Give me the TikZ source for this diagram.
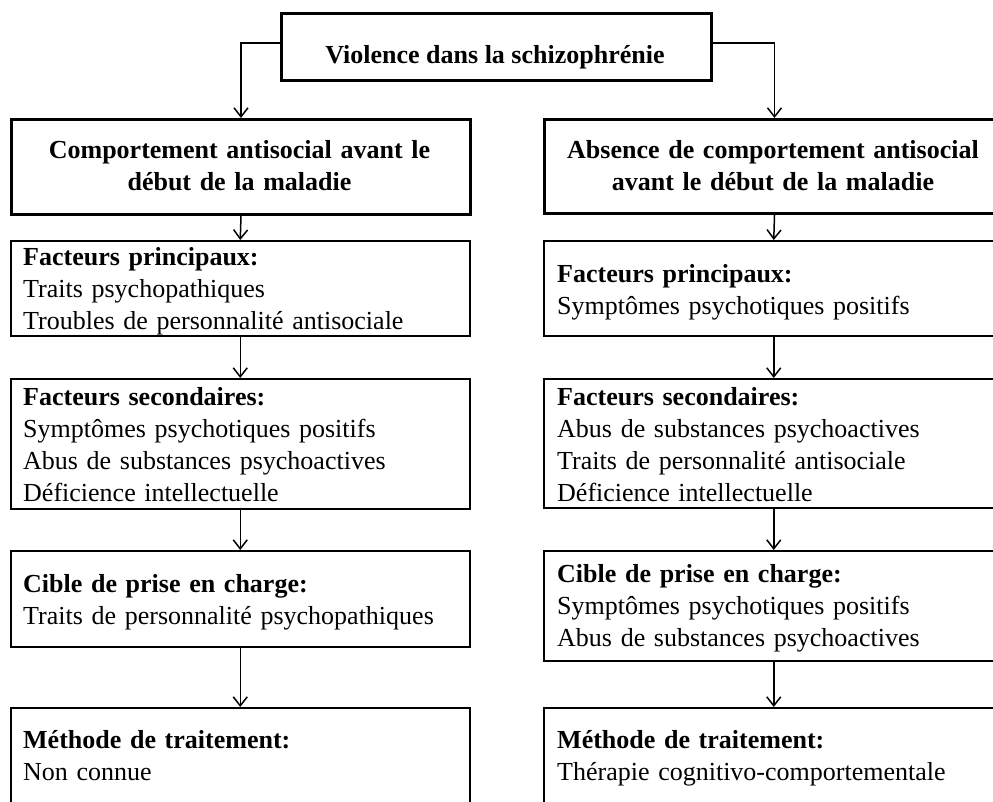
\documentclass[tikz,border=0pt]{standalone}
\usepackage{fontspec}
\setmainfont{Liberation Serif}
\usetikzlibrary{arrows.meta}
\tikzset{
  bigbox/.style={draw, line width=3pt, inner sep=0pt, anchor=north west, minimum width=#1},
  smallbox/.style={draw, line width=1.5pt, inner sep=0pt, anchor=north west, minimum width=#1},
  txt/.style={anchor=base west, inner sep=0pt, align=left, text width=440pt,
              font=\fontsize{26}{32}\selectfont},
  ctxt/.style={anchor=base, inner sep=0pt, align=center, text width=440pt,
              font=\fontsize{26}{32}\selectfont\bfseries},
  arr/.style={-{Straight Barb[length=9pt,width=14pt]}, line width=1.5pt}
}
\begin{document}
\begin{tikzpicture}[x=1pt,y=-1pt]
\useasboundingbox (0,0) rectangle (993,801);
\clip (0,0) rectangle (993,801);

% top box
\node[bigbox=430pt, minimum height=67pt] (top) at (280,12) {};
\node[anchor=base, inner sep=0pt, font=\fontsize{26}{32}\selectfont\bfseries] (toptxt) at (495,63) {Violence dans la schizophrénie};

% left column
\node[bigbox=459pt, minimum height=95pt] (L2) at (10,118) {};
\node[ctxt] (L2t) at (239.5,158) {Comportement antisocial avant le\\début de la maladie};

\node[smallbox=459pt, minimum height=95pt] (L3) at (10,240) {};
\node[txt] (L3t) at (23,265) {\textbf{Facteurs principaux:}\\Traits psychopathiques\\Troubles de personnalité antisociale};

\node[smallbox=459pt, minimum height=130pt] (L4) at (10,378) {};
\node[txt] (L4t) at (23,405) {\textbf{Facteurs secondaires:}\\Symptômes psychotiques positifs\\Abus de substances psychoactives\\Déficience intellectuelle};

\node[smallbox=459pt, minimum height=96pt] (L5) at (10,550) {};
\node[txt] (L5t) at (23,592) {\textbf{Cible de prise en charge:}\\Traits de personnalité psychopathiques};

\node[smallbox=459pt, minimum height=130pt] (L6) at (10,707) {};
\node[txt] (L6t) at (23,748) {\textbf{Méthode de traitement:}\\Non connue};

% right column
\node[bigbox=460pt, minimum height=94pt] (R2) at (543,118) {};
\node[ctxt] (R2t) at (773,158) {Absence de comportement antisocial\\avant le début de la maladie};

\node[smallbox=460pt, minimum height=95pt] (R3) at (543,240) {};
\node[txt] (R3t) at (557,282) {\textbf{Facteurs principaux:}\\Symptômes psychotiques positifs};

\node[smallbox=460pt, minimum height=129pt] (R4) at (543,378) {};
\node[txt] (R4t) at (557,405) {\textbf{Facteurs secondaires:}\\Abus de substances psychoactives\\Traits de personnalité antisociale\\Déficience intellectuelle};

\node[smallbox=460pt, minimum height=110pt] (R5) at (543,550) {};
\node[txt] (R5t) at (557,582) {\textbf{Cible de prise en charge:}\\Symptômes psychotiques positifs\\Abus de substances psychoactives};

\node[smallbox=460pt, minimum height=130pt] (R6) at (543,707) {};
\node[txt] (R6t) at (557,748) {\textbf{Méthode de traitement:}\\Thérapie cognitivo-comportementale};

% connectors
\draw[arr] ([yshift=4pt]top.west) -| (L2.north);
\draw[arr] ([yshift=4pt]top.east) -| (R2.north);
\draw[arr] (L2.south) -- (L3.north);
\draw[arr] (L3.south) -- (L4.north);
\draw[arr] (L4.south) -- (L5.north);
\draw[arr] (L5.south) -- (L6.north);
\draw[arr] (R2.south) -- (R3.north);
\draw[arr] (R3.south) -- (R4.north);
\draw[arr] (R4.south) -- (R5.north);
\draw[arr] (R5.south) -- (R6.north);
\end{tikzpicture}
\end{document}
